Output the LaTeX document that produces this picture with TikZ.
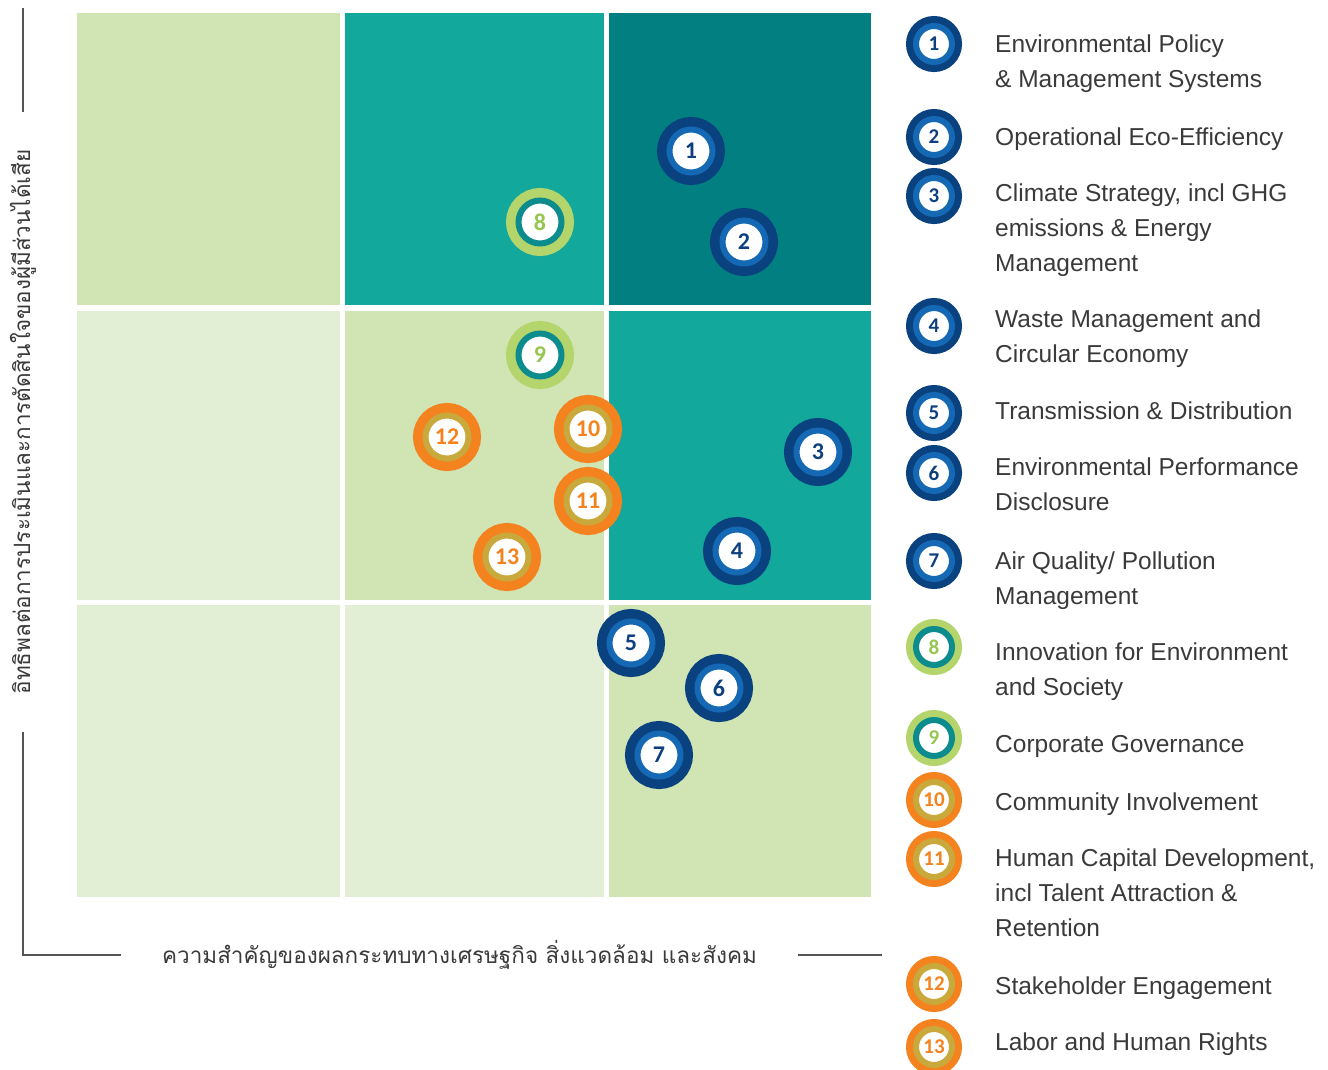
\documentclass[tikz,border=0pt]{standalone}
\usepackage{fontspec}
\setmainfont{Liberation Sans}
\newfontfamily\numfont{Carlito}
\newfontfamily\thaifont[Script=Thai]{Loma}
\usetikzlibrary{positioning}

\definecolor{cellpale}{HTML}{E2EFD4}
\definecolor{celllight}{HTML}{D1E4B4}
\definecolor{cellteal}{HTML}{12A89C}
\definecolor{celldark}{HTML}{028081}
\definecolor{outerblue}{HTML}{0A4280}
\definecolor{ringblue}{HTML}{1468B4}
\definecolor{numblue}{HTML}{0E3F7E}
\definecolor{outergreen}{HTML}{B4D56C}
\definecolor{ringteal}{HTML}{0C8C8C}
\definecolor{numgreen}{HTML}{94C650}
\definecolor{outerorange}{HTML}{F4831F}
\definecolor{ringgold}{HTML}{C9A83C}
\definecolor{textgray}{HTML}{3A3A3A}
\definecolor{axisgray}{HTML}{555555}

\tikzset{
  envdot/.style={draw=ringblue, text=numblue, preaction={draw=outerblue, line width=#1}},
  envdot/.default=25pt,
  govdot/.style={draw=ringteal, text=numgreen, preaction={draw=outergreen, line width=#1}},
  govdot/.default=25pt,
  socdot/.style={draw=ringgold, text=outerorange, preaction={draw=outerorange, line width=#1}},
  socdot/.default=25pt
}

\begin{document}
\begin{tikzpicture}[x=1pt, y=-1pt, align=left, text=textgray,
    font=\fontsize{24.5}{35}\selectfont]

    \tikzstyle{dot}=[circle, fill=white, inner sep=0pt, line width=6pt, minimum size=43pt,
                     font=\numfont\bfseries\fontsize{24}{24}\selectfont]
    \tikzstyle{legdot}=[dot, minimum size=36pt, font=\numfont\bfseries\fontsize{21}{21}\selectfont]
    \tikzstyle{legtext}=[anchor=north west, inner sep=0pt]
    \tikzstyle{thailab}=[font=\thaifont\fontsize{22.5}{26}\selectfont, inner ysep=0pt]
    \tikzstyle{axis}=[draw=axisgray, line width=1.2pt]

    \useasboundingbox (0,0) rectangle (1328,1069);

    % matrix cells
    \fill[celllight] (77,13)  rectangle (340,305);
    \fill[cellteal]  (345,13) rectangle (604,305);
    \fill[celldark]  (609,13) rectangle (871,305);
    \fill[cellpale]  (77,311)  rectangle (340,600);
    \fill[celllight] (345,311) rectangle (604,600);
    \fill[cellteal]  (609,311) rectangle (871,600);
    \fill[cellpale]  (77,605)  rectangle (340,897);
    \fill[cellpale]  (345,605) rectangle (604,897);
    \fill[celllight] (609,605) rectangle (871,897);

    % axes
    \coordinate (origin) at (23,955);
    \coordinate (ytop)   at (23,8);
    \coordinate (xend)   at (882,955);
    \node[thailab, inner xsep=41pt] (xlab) at (459.5,955)
        {ความสำคัญของผลกระทบทางเศรษฐกิจ สิ่งแวดล้อม และสังคม};
    \node[thailab, inner xsep=37pt, rotate=90] (ylab) at (23,422)
        {อิทธิพลต่อการประเมินและการตัดสินใจของผู้มีส่วนได้เสีย};
    \draw[axis] (ytop) -- (ylab.east);
    \draw[axis] (ylab.west) -- (origin) -- (xlab.west);
    \draw[axis] (xlab.east) -- (xend);

    % topics in the matrix
    \node[dot, envdot] (m1)  at (691,151) {1};
    \node[dot, envdot] (m2)  at (744,242) {2};
    \node[dot, envdot] (m3)  at (818,452) {3};
    \node[dot, envdot] (m4)  at (737,551) {4};
    \node[dot, envdot] (m5)  at (631,643) {5};
    \node[dot, envdot] (m6)  at (719,688) {6};
    \node[dot, envdot] (m7)  at (659,755) {7};
    \node[dot, govdot] (m8)  at (540,222) {8};
    \node[dot, govdot] (m9)  at (540,355) {9};
    \node[dot, socdot] (m10) at (588,429) {10};
    \node[dot, socdot] (m11) at (588,501) {11};
    \node[dot, socdot] (m12) at (447,437) {12};
    \node[dot, socdot] (m13) at (507,557) {13};

    % legend
    \node[legdot, envdot=20pt] (l1)  at (934,44)   {1};
    \node[legdot, envdot=20pt] (l2)  at (934,137)  {2};
    \node[legdot, envdot=20pt] (l3)  at (934,196)  {3};
    \node[legdot, envdot=20pt] (l4)  at (934,326)  {4};
    \node[legdot, envdot=20pt] (l5)  at (934,413)  {5};
    \node[legdot, envdot=20pt] (l6)  at (934,473)  {6};
    \node[legdot, envdot=20pt] (l7)  at (934,561)  {7};
    \node[legdot, govdot=20pt] (l8)  at (934,647)  {8};
    \node[legdot, govdot=20pt] (l9)  at (934,738)  {9};
    \node[legdot, socdot=20pt] (l10) at (934,800)  {10};
    \node[legdot, socdot=20pt] (l11) at (934,859)  {11};
    \node[legdot, socdot=20pt] (l12) at (934,984)  {12};
    \node[legdot, socdot=20pt] (l13) at (934,1047) {13};

    \node[legtext] (t1)  at (995,35)   {Environmental Policy\\ \& Management Systems};
    \node[legtext] (t2)  at (995,128)  {Operational Eco-Efficiency};
    \node[legtext] (t3)  at (995,184)  {Climate Strategy, incl GHG\\ emissions \& Energy\\ Management};
    \node[legtext] (t4)  at (995,310)  {Waste Management and\\ Circular Economy};
    \node[legtext] (t5)  at (995,402)  {Transmission \& Distribution};
    \node[legtext] (t6)  at (995,458)  {Environmental Performance\\ Disclosure};
    \node[legtext] (t7)  at (995,552)  {Air Quality/ Pollution\\ Management};
    \node[legtext] (t8)  at (995,643)  {Innovation for Environment\\ and Society};
    \node[legtext] (t9)  at (995,735)  {Corporate Governance};
    \node[legtext] (t10) at (995,793)  {Community Involvement};
    \node[legtext] (t11) at (995,849)  {Human Capital Development,\\ incl Talent Attraction \&\\ Retention};
    \node[legtext] (t12) at (995,977)  {Stakeholder Engagement};
    \node[legtext] (t13) at (995,1033) {Labor and Human Rights};
\end{tikzpicture}
\end{document}
